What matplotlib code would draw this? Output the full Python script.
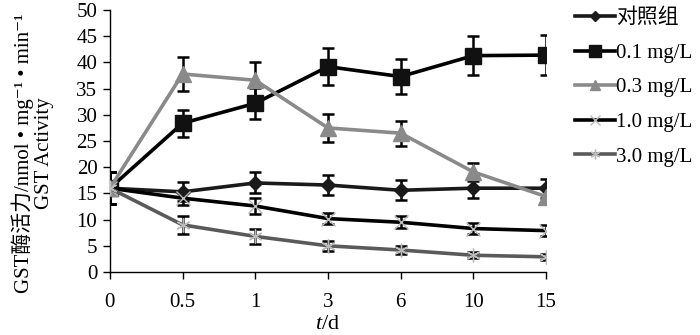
import matplotlib
matplotlib.use('Agg')
import matplotlib.pyplot as plt
import numpy as np

plt.rcParams['font.family'] = ['Liberation Serif', 'Noto Sans CJK SC', 'DejaVu Serif']
plt.rcParams['mathtext.fontset'] = 'custom'
plt.rcParams['mathtext.it'] = 'Liberation Serif:italic'
plt.rcParams['mathtext.rm'] = 'Liberation Serif'

# 取样时间 (d)
days = ['0', '0.5', '1', '3', '6', '10', '15']

# GST 活力均值与标准差
ctrl = [16.0, 15.3, 17.0, 16.6, 15.6, 16.0, 16.0]
ctrl_err = [3.0, 1.8, 2.0, 1.9, 1.9, 1.8, 1.8]
c01 = [16.0, 28.4, 32.2, 39.2, 37.3, 41.3, 41.4]
c01_err = [3.0, 2.6, 3.0, 3.5, 3.3, 3.7, 3.8]
c03 = [16.0, 37.8, 36.6, 27.5, 26.5, 19.1, 14.4]
c03_err = [3.0, 3.3, 3.4, 2.6, 2.4, 1.8, 1.5]
c10 = [16.0, 14.1, 12.6, 10.2, 9.5, 8.3, 7.9]
c10_err = [3.0, 1.3, 1.5, 1.1, 1.1, 1.0, 1.0]
c30 = [16.0, 9.0, 6.8, 5.0, 4.2, 3.2, 2.9]
c30_err = [3.0, 1.7, 1.4, 0.9, 0.8, 0.6, 0.6]

labels = ['对照组', '0.1 mg/L', '0.3 mg/L', '1.0 mg/L', '3.0 mg/L']

fig = plt.figure(figsize=(7, 3.35), dpi=100)
ax = fig.add_axes([0.157, 0.188, 0.623, 0.782])

x = np.arange(len(days))
series = [
    (ctrl, ctrl_err, '#1a1a1a', 'D', 7, '#1a1a1a'),
    (c01, c01_err, '#000000', 's', 12, '#111111'),
    (c03, c03_err, '#8a8a8a', '^', 11, '#8a8a8a'),
    (c10, c10_err, '#000000', 'x', 10, '#bbbbbb'),
    (c30, c30_err, '#5a5a5a', (6, 2, 0), 10, '#bbbbbb'),
]

handles = []
for (y, e, col, mk, ms, mcol), lab in zip(series, labels):
    ax.errorbar(x, y, yerr=e, fmt='none', ecolor='black', elinewidth=1.8,
                capsize=4, capthick=1.8, zorder=3)
    h, = ax.plot(x, y, color=col, lw=2.6, marker=mk, markersize=ms,
                 markerfacecolor=mcol, markeredgecolor=mcol,
                 markeredgewidth=1.0, label=lab, zorder=4)
    handles.append(h)

ax.set_xlim(0, 6)
ax.set_ylim(0, 50)
ax.set_xticks(x)
ax.set_xticklabels(days)
ax.set_yticks(np.arange(0, 51, 5))
ax.tick_params(labelsize=15, length=5, width=1, direction='out')
ax.tick_params(axis='x', pad=10)
ax.tick_params(axis='y', pad=4)
for s in ['top', 'right']:
    ax.spines[s].set_visible(False)
for s in ['left', 'bottom']:
    ax.spines[s].set_linewidth(1)

ax.set_xlabel(r'$t$/d', fontsize=16, labelpad=2)
ax.set_ylabel('GST酶活力/nmol • mg⁻¹ • min⁻¹\nGST Activity',
              fontsize=15, linespacing=1.1)
ax.yaxis.set_label_coords(-0.128, 0.455)

fig.legend(handles=handles, labels=labels, loc='upper left',
           bbox_to_anchor=(0.795, 1.03), frameon=False, fontsize=15,
           handlelength=1.9, handletextpad=0.05, labelspacing=0.72,
           markerscale=0.7)

fig.savefig('out.png', dpi=100)
